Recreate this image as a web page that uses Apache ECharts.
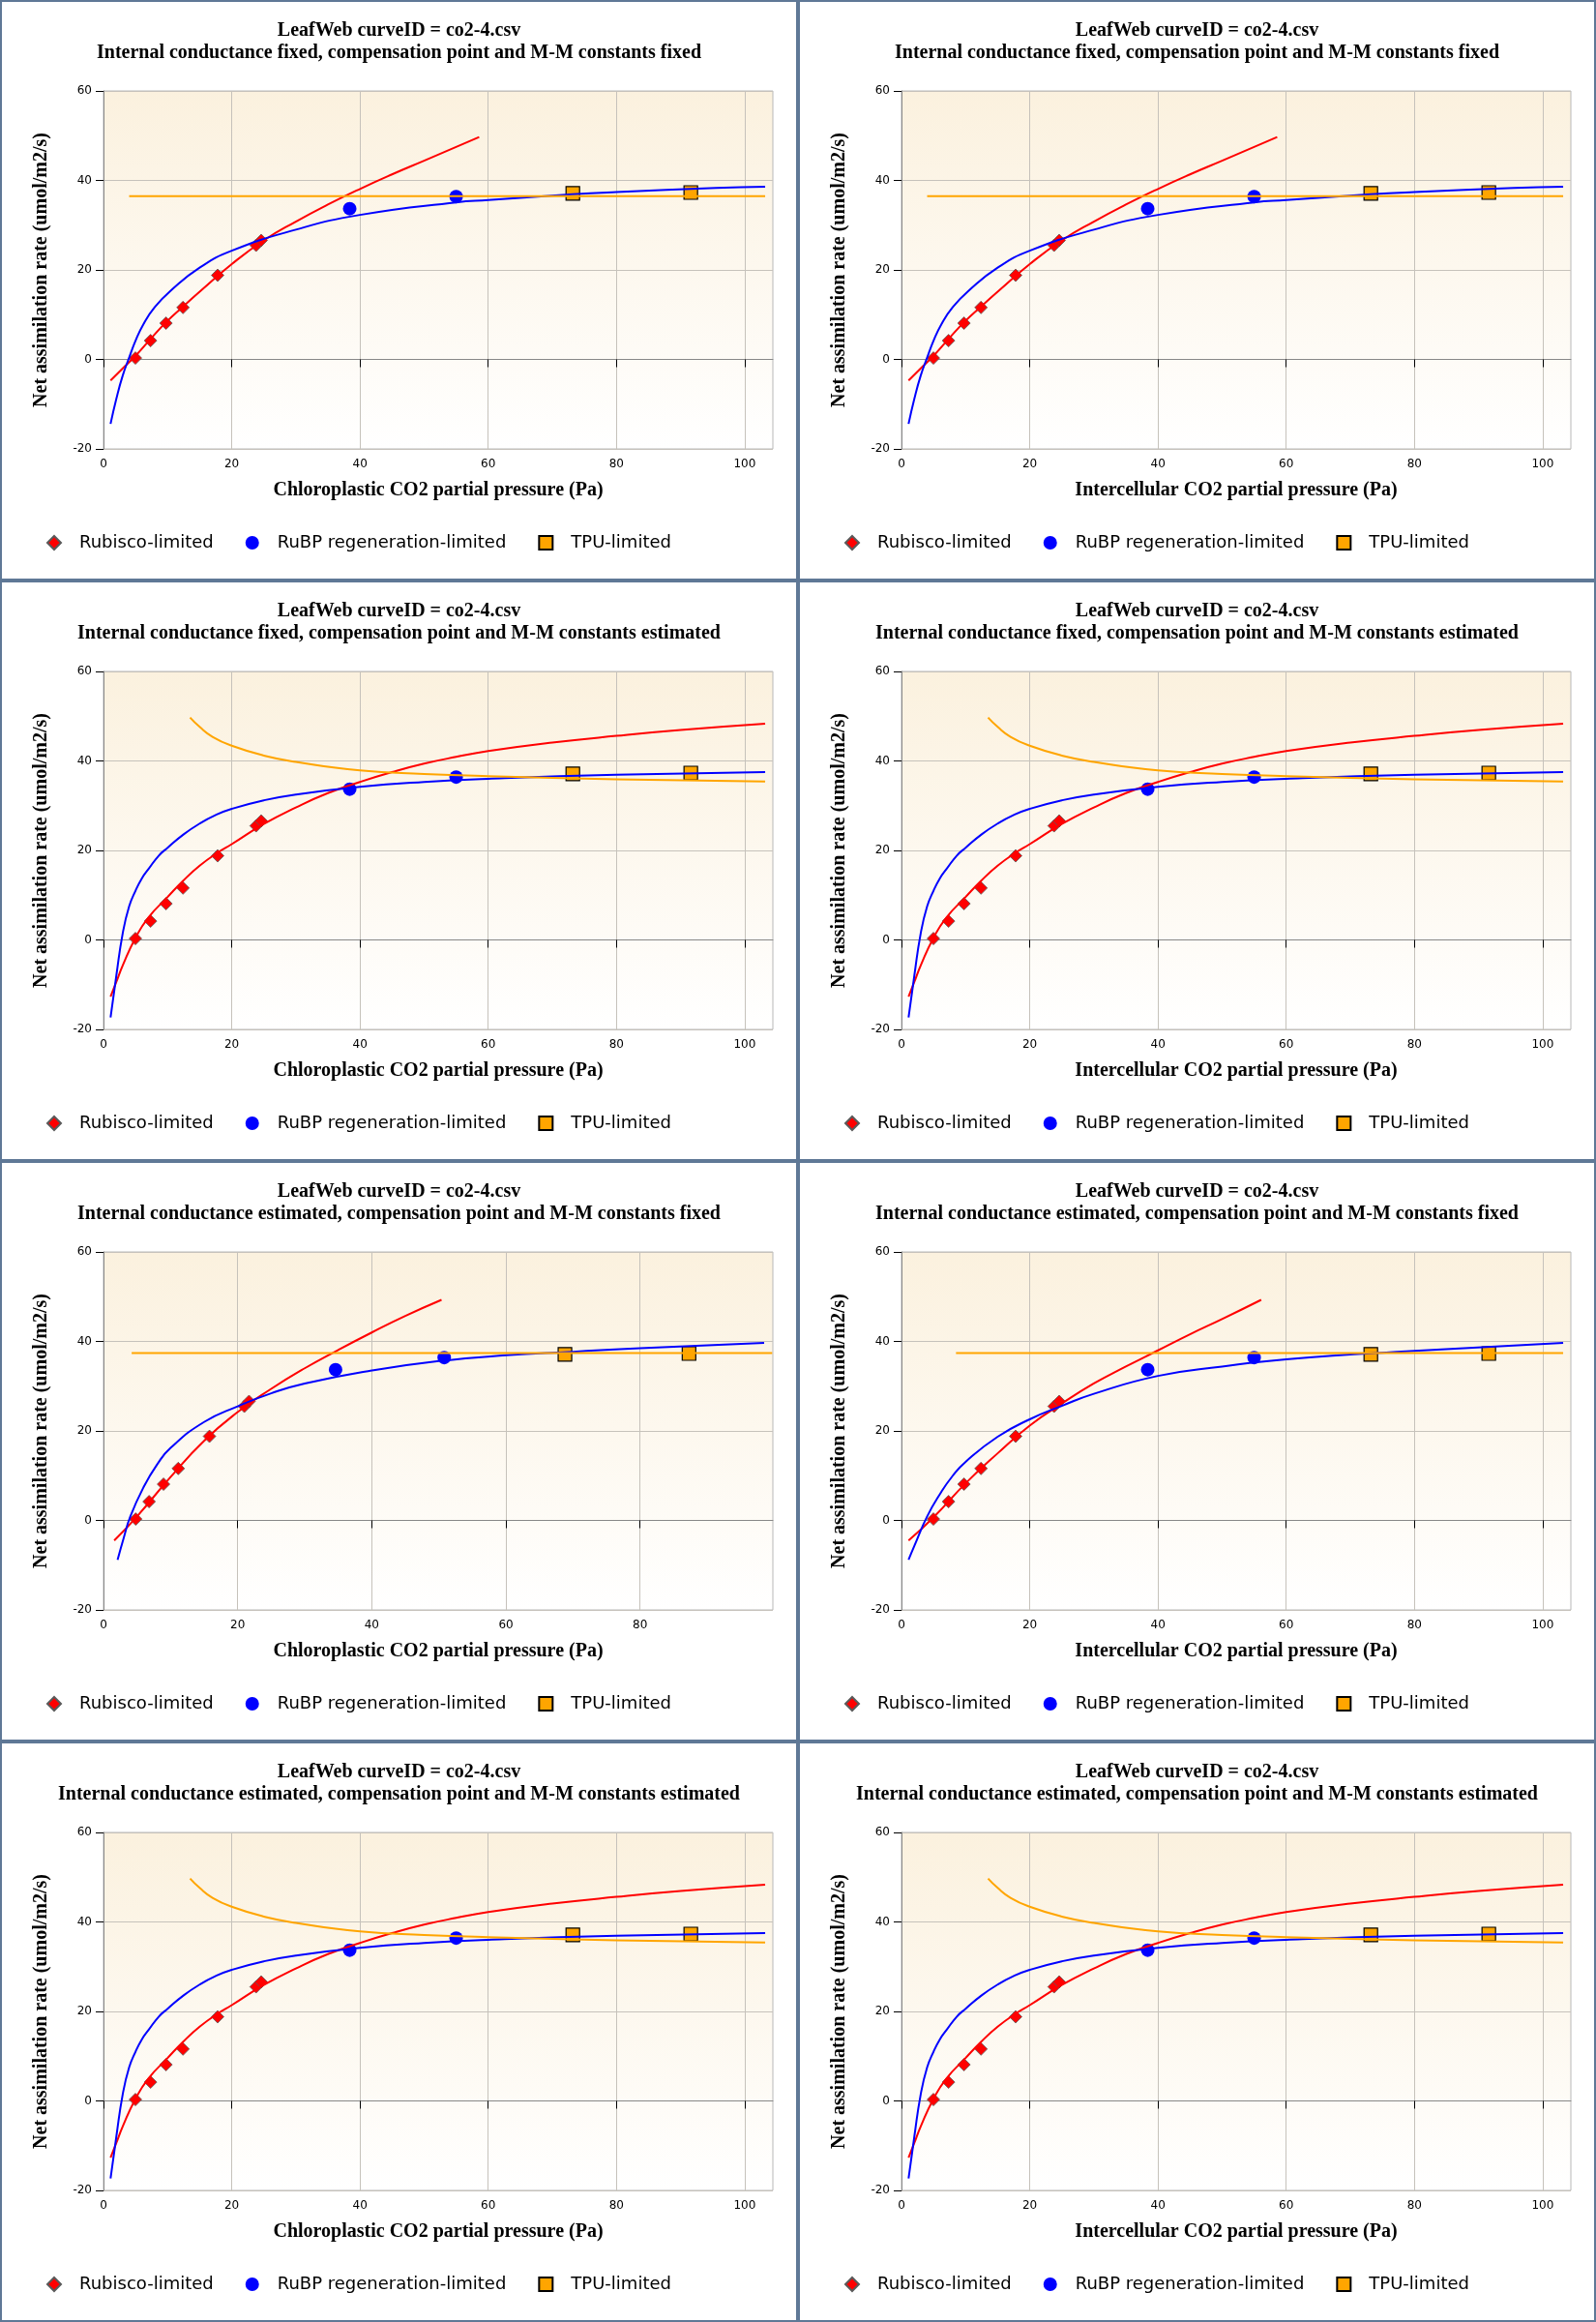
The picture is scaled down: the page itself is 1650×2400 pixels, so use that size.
<!DOCTYPE html>
<html>
<head>
<meta charset="utf-8">
<title>LeafWeb co2-4.csv</title>
<script src="https://cdn.jsdelivr.net/npm/echarts@6/dist/echarts.min.js"></script>
<style>
body { margin: 0; background: #fff; }
#wrap { display: grid; grid-template-columns: 825px 825px; grid-template-rows: repeat(4, 600px); width: 1650px; }
.cell { box-sizing: border-box; border: 2px solid #5f7896; width: 825px; height: 600px; }
</style>
</head>
<body>
<div id="wrap">
  <div class="cell" id="c1"></div><div class="cell" id="c2"></div>
  <div class="cell" id="c3"></div><div class="cell" id="c4"></div>
  <div class="cell" id="c5"></div><div class="cell" id="c6"></div>
  <div class="cell" id="c7"></div><div class="cell" id="c8"></div>
</div>
<script>
// observed points (net assimilation, umol/m2/s)
var aRubisco = [0.3, 4.2, 8.1, 11.6, 18.8, 25.5, 26.6];
var aRubp = [33.7, 36.4];
var aTpu = [37.1, 37.3];
// intercellular CO2 (also used for chloroplastic when gm is fixed)
var ciRubisco = [4.98, 7.34, 9.75, 12.4, 17.8, 23.8, 24.6];
var ciRubp = [38.4, 55.0];
var ciTpu = [73.2, 91.6];
// chloroplastic CO2 with estimated internal conductance
var ccRubisco = [4.8, 6.8, 8.95, 11.15, 15.8, 21.0, 21.7];
var ccRubp = [34.6, 50.8];
var ccTpu = [68.8, 87.3];

// fitted curves
// A: gm fixed, constants fixed
var redA = [[1.1,-4.7],[3,-2.0],[5,0.8],[7.3,4.5],[9.75,8.3],[12.4,11.8],[15.3,15.5],[20,21.3],[25,26.6],[30,30.8],[35,34.6],[40,38.1],[45,41.35],[50,44.4],[58.6,49.7]];
var blueA = [[1.1,-14.4],[2,-8.8],[3,-3.6],[4,0.4],[5,4.2],[6.2,7.8],[8,11.7],[10.6,15.5],[15,20.5],[20,24.3],[30,29],[40,32.3],[55,35.1],[60,35.6],[73.2,36.9],[80,37.4],[95.5,38.3],[103.2,38.6]];
var orangeA = [[4.0,36.5],[103.2,36.5]];
// B: constants estimated
var redB = [[1.1,-12.7],[2,-9.4],[3,-5.7],[5,0.5],[7,5.0],[10,9.6],[12.4,13.2],[15,16.6],[17.8,19.5],[20,21.4],[25,25.9],[30,29.6],[35,32.8],[40,35.3],[45,37.5],[50,39.4],[55,40.9],[60,42.2],[70,44.1],[80,45.6],[90,46.9],[103.2,48.3]];
var blueB = [[1.1,-17.3],[2,-8.0],[3,1.5],[4,7.5],[5,11.0],[6,13.8],[7,15.8],[8.6,18.8],[10,20.6],[12.5,23.6],[15,26.0],[17.5,27.9],[20,29.3],[25,31.2],[30,32.5],[40,34.2],[50,35.3],[60,36.0],[80,36.9],[103.2,37.5]];
var orangeB = [[13.5,49.7],[15,47.6],[17,45.4],[20,43.4],[25,41.2],[30,39.8],[40,37.9],[50,37.1],[60,36.6],[80,35.9],[103.2,35.4]];
// C: gm estimated, chloroplastic axis
var redC = [[1.6,-4.5],[5,0.9],[10,9.7],[15,17.8],[20,24.2],[25,29.4],[30,34],[35,38.1],[40,42],[45,45.7],[50.4,49.3]];
var blueC = [[2.1,-8.8],[3,-4],[4,0.9],[6,7.5],[8,12.5],[10,16.2],[15,22],[20,25.5],[25,28.4],[30,30.6],[40,33.5],[50,35.6],[60,36.9],[70,37.7],[80,38.5],[98.5,39.7]];
var orangeC = [[4.2,37.4],[99.7,37.4]];
// D: gm estimated, intercellular axis
var redD = [[1.1,-4.5],[5,0.7],[10,8.3],[15,15],[20,21.2],[25,26.1],[30,30.6],[35,34.4],[40,38.0],[45,41.6],[50,45.0],[56.1,49.3]];
var blueD = [[1.1,-8.8],[2,-5.7],[4,0.9],[6,5.9],[8,10],[10,13.1],[15,18.7],[20,22.6],[25,25.6],[30,28.3],[40,32.3],[50,34.4],[60,36],[80,37.9],[103.2,39.7]];
var orangeD = [[8.5,37.4],[103.2,37.4]];

var xTicks = [0, 20, 40, 60, 80, 100];
var xTicksShort = [0, 20, 40, 60, 80];
var yTicks = [-20, 0, 20, 40, 60];

var legendNames = ['Rubisco-limited', 'RuBP regeneration-limited', 'TPU-limited'];
var cc = 'Chloroplastic CO2 partial pressure (Pa)';
var ci = 'Intercellular CO2 partial pressure (Pa)';
var sub1 = 'Internal conductance fixed, compensation point and M-M constants fixed';
var sub2 = 'Internal conductance fixed, compensation point and M-M constants estimated';
var sub3 = 'Internal conductance estimated, compensation point and M-M constants fixed';
var sub4 = 'Internal conductance estimated, compensation point and M-M constants estimated';

function pairs(xs, ys) {
    var out = [];
    for (var i = 0; i < xs.length; i++) out.push([xs[i], ys[i]]);
    return out;
}

var obsCi = { rub: pairs(ciRubisco, aRubisco), rubp: pairs(ciRubp, aRubp), tpu: pairs(ciTpu, aTpu) };
var obsCc = { rub: pairs(ccRubisco, aRubisco), rubp: pairs(ccRubp, aRubp), tpu: pairs(ccTpu, aTpu) };

var panels = [
    { id: 'c1', sub: sub1, xname: cc, obs: obsCi, red: redA, blue: blueA, orange: orangeA, xmax: 104.4, ticks: xTicks },
    { id: 'c2', sub: sub1, xname: ci, obs: obsCi, red: redA, blue: blueA, orange: orangeA, xmax: 104.4, ticks: xTicks },
    { id: 'c3', sub: sub2, xname: cc, obs: obsCi, red: redB, blue: blueB, orange: orangeB, xmax: 104.4, ticks: xTicks },
    { id: 'c4', sub: sub2, xname: ci, obs: obsCi, red: redB, blue: blueB, orange: orangeB, xmax: 104.4, ticks: xTicks },
    { id: 'c5', sub: sub3, xname: cc, obs: obsCc, red: redC, blue: blueC, orange: orangeC, xmax: 99.8, ticks: xTicksShort },
    { id: 'c6', sub: sub3, xname: ci, obs: obsCi, red: redD, blue: blueD, orange: orangeD, xmax: 104.4, ticks: xTicks },
    { id: 'c7', sub: sub4, xname: cc, obs: obsCi, red: redB, blue: blueB, orange: orangeB, xmax: 104.4, ticks: xTicks },
    { id: 'c8', sub: sub4, xname: ci, obs: obsCi, red: redB, blue: blueB, orange: orangeB, xmax: 104.4, ticks: xTicks }
];

var serif = '"Liberation Serif", "Times New Roman", serif';
var sans = '"DejaVu Sans", Verdana, sans-serif';

function curve(name, data, color) {
    return {
        name: name, type: 'line', data: data, smooth: true,
        showSymbol: false, silent: true,
        lineStyle: { color: color, width: 2 }, itemStyle: { color: color }
    };
}

panels.forEach(function (p) {
    var chart = echarts.init(document.getElementById(p.id));
    var option = {
        animation: false,
        title: {
            text: 'LeafWeb curveID = co2-4.csv\n' + p.sub,
            left: 'center', top: 18, padding: 0,
            textStyle: { fontFamily: serif, fontSize: 20, fontWeight: 'bold', color: '#000', lineHeight: 23 }
        },
        legend: {
            data: legendNames,
            left: 46, top: 550, padding: 0,
            itemWidth: 14, itemHeight: 14, itemGap: 33,
            textStyle: { fontFamily: sans, fontSize: 18, color: '#000', padding: [0, 0, 0, 14] }
        },
        grid: {
            left: 105, top: 92, width: 692, height: 370,
            show: true, borderColor: '#b8b8b8', borderWidth: 1,
            backgroundColor: {
                type: 'linear', x: 0, y: 0, x2: 0, y2: 1,
                colorStops: [{ offset: 0, color: '#fbf1de' }, { offset: 1, color: '#ffffff' }]
            }
        },
        xAxis: {
            type: 'value', min: 0, max: p.xmax, interval: 20,
            name: p.xname, nameLocation: 'middle', nameGap: 33,
            nameTextStyle: { fontFamily: serif, fontSize: 20, fontWeight: 'bold', color: '#000' },
            axisLine: { show: true, lineStyle: { color: '#888', width: 1 } },
            axisTick: { show: true, length: 8, lineStyle: { color: '#000' }, customValues: p.ticks },
            axisLabel: { fontFamily: sans, fontSize: 12, color: '#000', margin: 10, customValues: p.ticks },
            splitLine: { show: true, lineStyle: { color: '#c6c2bb', width: 1 } }
        },
        yAxis: {
            type: 'value', min: -20, max: 60, interval: 20,
            name: 'Net assimilation rate (umol/m2/s)', nameLocation: 'middle', nameGap: 54,
            nameTextStyle: { fontFamily: serif, fontSize: 20, fontWeight: 'bold', color: '#000' },
            axisLine: { show: true, lineStyle: { color: '#888', width: 1 } },
            axisTick: { show: true, length: 8, lineStyle: { color: '#000' }, customValues: yTicks },
            axisLabel: { fontFamily: sans, fontSize: 12, color: '#000', margin: 12, customValues: yTicks },
            splitLine: { show: true, lineStyle: { color: '#c6c2bb', width: 1 } }
        },
        series: [
            {
                name: 'RuBP regeneration-limited', type: 'scatter', data: p.obs.rubp,
                symbol: 'circle', symbolSize: 14, itemStyle: { color: '#0000ff', opacity: 1 }
            },
            curve('Rubisco fit', p.red, '#ff0000'),
            curve('RuBP fit', p.blue, '#0000ff'),
            curve('TPU fit', p.orange, '#ffa500'),
            {
                name: 'Rubisco-limited', type: 'scatter', data: p.obs.rub,
                symbol: 'diamond', symbolSize: 13,
                itemStyle: { color: '#ff0000', borderColor: '#5a5a5a', borderWidth: 0.8, opacity: 1 }
            },
            {
                name: 'TPU-limited', type: 'scatter', data: p.obs.tpu,
                symbol: 'rect', symbolSize: 14,
                itemStyle: { color: '#ffa500', borderColor: '#000', borderWidth: 1.2, opacity: 1 }
            }
        ]
    };
    chart.setOption(option);
});
</script>
</body>
</html>
